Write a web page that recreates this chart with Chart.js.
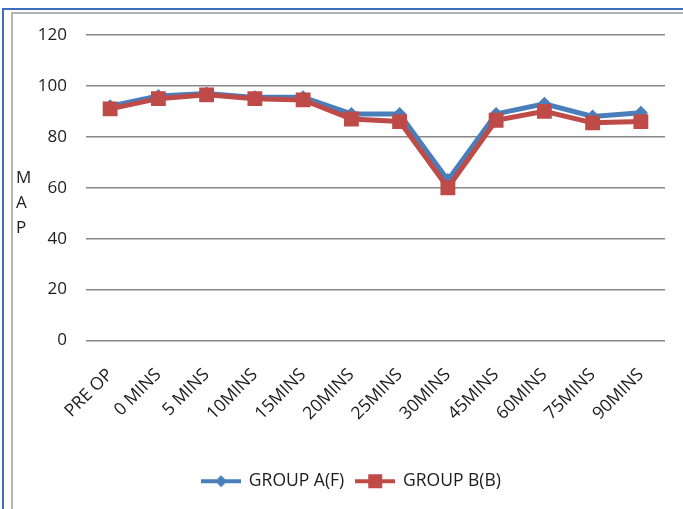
<!DOCTYPE html>
<html>
<head>
<meta charset="utf-8">
<script src="https://cdn.jsdelivr.net/npm/chart.js@4.4.1/dist/chart.umd.min.js"></script>
<style>
  html, body { margin: 0; padding: 0; background: #ffffff; }
  #wrap { position: relative; width: 683px; height: 509px; overflow: hidden; }
  #c { position: absolute; left: 0; top: 0; }
  .b { position: absolute; }
</style>
</head>
<body>
<div id="wrap">
  <div class="b" style="left:2px;top:8px;width:2px;height:501px;background:#3d6cc0;"></div>
  <div class="b" style="left:2px;top:8px;width:681px;height:2px;background:#3d6cc0;"></div>
  <div class="b" style="left:11px;top:12px;width:2px;height:497px;background:#b4b4b4;"></div>
  <div class="b" style="left:11px;top:12px;width:672px;height:2px;background:#b4b4b4;"></div>
  <canvas id="c" width="683" height="509"></canvas>
</div>
<script>
const categories = ["PRE OP", "0 MINS", "5 MINS", "10MINS", "15MINS", "20MINS", "25MINS", "30MINS", "45MINS", "60MINS", "75MINS", "90MINS"];
const groupA = [92, 96, 97, 95.5, 95.5, 89, 89, 63, 89, 93, 88, 89.5];
const groupB = [91, 95, 96.5, 95, 94.5, 87, 86, 60, 86.5, 90, 85.5, 86];
const seriesNames = ["GROUP A(F)", "GROUP B(B)"];
const yTicks = [0, 20, 40, 60, 80, 100, 120];
const axisTitleLetters = ["M", "A", "P"];

const BLUE = "#4a7ebb";
const RED = "#be4b48";
const TEXT = "#1c1c1c";
const FONT = "'Open Sans', sans-serif";

function legendIcon(color, shape) {
  const cv = document.createElement("canvas");
  cv.width = 40; cv.height = 16;
  const g = cv.getContext("2d");
  g.strokeStyle = color; g.lineWidth = 4;
  g.beginPath(); g.moveTo(0, 8); g.lineTo(40, 8); g.stroke();
  g.fillStyle = color;
  if (shape === "diamond") {
    g.beginPath(); g.moveTo(20, 2); g.lineTo(26, 8); g.lineTo(20, 14); g.lineTo(14, 8); g.closePath(); g.fill();
  } else {
    g.fillRect(13, 1, 14, 14);
  }
  return cv;
}
const icons = [legendIcon(BLUE, "diamond"), legendIcon(RED, "square")];

const mapTitle = {
  id: "mapTitle",
  afterDraw(chart) {
    const ctx = chart.ctx;
    ctx.save();
    ctx.fillStyle = TEXT;
    ctx.font = "17px " + FONT;
    ctx.textAlign = "left";
    ctx.textBaseline = "middle";
    axisTitleLetters.forEach((l, i) => ctx.fillText(l, 16, 178 + i * 25));
    ctx.restore();
  }
};

new Chart(document.getElementById("c"), {
  type: "line",
  data: {
    labels: categories,
    datasets: [
      {
        label: seriesNames[0], data: groupA, borderColor: BLUE, backgroundColor: BLUE,
        borderWidth: 5, pointStyle: "rectRot", pointRadius: 7, pointBorderWidth: 0,
        tension: 0, order: 2
      },
      {
        label: seriesNames[1], data: groupB, borderColor: RED, backgroundColor: RED,
        borderWidth: 5, pointStyle: "rect", pointRadius: 10.5, pointBorderWidth: 0,
        tension: 0, order: 1
      }
    ]
  },
  options: {
    responsive: false,
    animation: false,
    events: [],
    layout: { padding: { left: 38, right: 18, top: 35, bottom: 9 } },
    plugins: {
      tooltip: { enabled: false },
      title: { display: false },
      legend: {
        display: true,
        position: "bottom",
        labels: {
          usePointStyle: true,
          pointStyleWidth: 38,
          padding: 12,
          color: TEXT,
          font: { family: FONT, size: 17.5 },
          sort: (a, b) => a.datasetIndex - b.datasetIndex,
          generateLabels(chart) {
            const items = Chart.defaults.plugins.legend.labels.generateLabels(chart);
            items.forEach(it => { it.pointStyle = icons[it.datasetIndex]; });
            return items;
          }
        }
      }
    },
    scales: {
      x: {
        offset: true,
        grid: { display: false, drawTicks: false },
        border: { display: false },
        ticks: {
          minRotation: 45, maxRotation: 45, autoSkip: false,
          color: TEXT, font: { family: FONT, size: 17.5 }, padding: 24
        },
        afterFit(scale) { scale.height = 120; }
      },
      y: {
        min: 0, max: 120,
        grid: { color: "#888888", lineWidth: 1.5, drawTicks: false },
        border: { display: false },
        ticks: {
          stepSize: 20, padding: 19,
          color: TEXT, font: { family: FONT, size: 17 },
          callback: (v) => yTicks.includes(v) ? String(v) : ""
        },
        afterFit(scale) { scale.width = 48; }
      }
    }
  },
  plugins: [mapTitle]
});
</script>
</body>
</html>
